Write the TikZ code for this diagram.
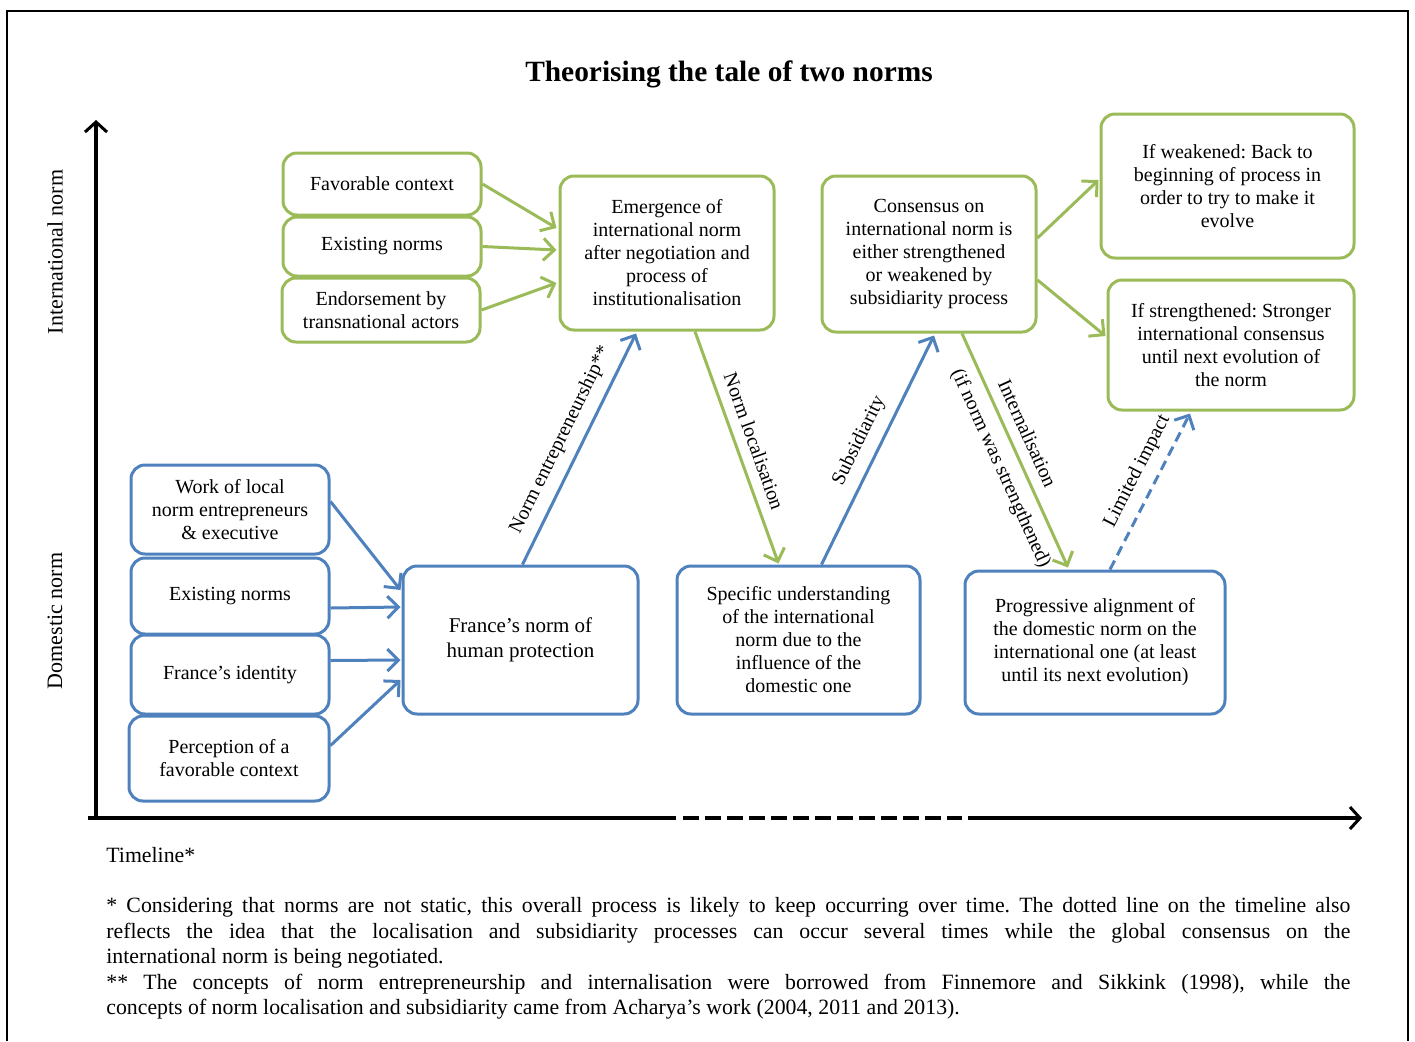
\documentclass[tikz,border=0pt]{standalone}
\usepackage{fontspec}
\setmainfont{Liberation Serif}
\usetikzlibrary{arrows.meta,calc}
\definecolor{ogreen}{HTML}{9BBB59}
\definecolor{oblue}{HTML}{4F81BD}
\frenchspacing
\tikzset{
  box/.style={draw, line width=1.5pt, rounded corners=7pt, align=center, fill=white,
    font=\fontsize{10}{11.5}\selectfont, inner sep=2pt},
  gbox/.style={box, draw=ogreen},
  bbox/.style={box, draw=oblue},
  conn/.style={line width=1.5pt, -{Straight Barb[length=5.5pt,width=11pt,line width=1.5pt]}},
  garr/.style={conn, draw=ogreen},
  barr/.style={conn, draw=oblue},
  lab/.style={sloped, font=\fontsize{10}{12}\selectfont, inner sep=5pt},
  axis/.style={line width=1.8pt, black},
  axtip/.style={-{Straight Barb[length=5pt,width=11pt,line width=1.5pt]}},
}
\begin{document}
\begin{tikzpicture}[x=0.5pt, y=-0.5pt]
\useasboundingbox (0,0) rectangle (1415,1041);
% frame
\draw[line width=1pt] (7,1041) -- (7,11) -- (1408,11) -- (1408,1041);

% title
\node[font=\fontsize{14.7}{17}\selectfont\bfseries] (title) at (729,74) {Theorising the tale of two norms};

% axes
\coordinate (orig) at (96,818);
\coordinate (ytop) at (96,120);
\draw[axis, axtip] (orig) -- (ytop);
\draw[axis] (88,818) -- (676,818);
\draw[axis, dash pattern=on 8pt off 3pt, line width=1.6pt] (683,818) -- (962,818);
\draw[axis, axtip] (968,818) -- (1362,818);
\node[rotate=90, font=\fontsize{11}{13}\selectfont] (intl) at (55,252) {International norm};
\node[rotate=90, font=\fontsize{11}{13}\selectfont] (dom) at (55,621) {Domestic norm};

% green boxes
\node[gbox, minimum width=99pt, minimum height=31pt] (fav) at (382,184) {Favorable context};
\node[gbox, minimum width=99pt, minimum height=29.5pt] (ex2) at (382,246.5) {Existing norms};
\node[gbox, minimum width=99pt, minimum height=32pt] (endo) at (381,310) {Endorsement by\\transnational actors};
\node[gbox, minimum width=107pt, minimum height=77pt] (emerg) at (667,253) {Emergence of\\international norm\\after negotiation and\\process of\\institutionalisation};
\node[gbox, minimum width=107pt, minimum height=78pt] (cons) at (929,254) {Consensus on\\international norm is\\either strengthened\\or weakened by\\subsidiarity process};
\node[gbox, minimum width=126.5pt, minimum height=72pt] (weak) at (1227.5,186) {If weakened: Back to\\beginning of process in\\order to try to make it\\evolve};
\node[gbox, minimum width=123pt, minimum height=65pt] (stre) at (1231,345) {If strengthened: Stronger\\international consensus\\until next evolution of\\the norm};

% blue boxes
\node[bbox, minimum width=99pt, minimum height=44.5pt] (work) at (230,509.5) {Work of local\\norm entrepreneurs\\\& executive};
\node[bbox, minimum width=99pt, minimum height=38pt] (ex1) at (230,596) {Existing norms};
\node[bbox, minimum width=99pt, minimum height=39.5pt] (iden) at (230,674.5) {France’s identity};
\node[bbox, minimum width=100pt, minimum height=42.5pt] (perc) at (229,758.5) {Perception of a\\favorable context};
\node[bbox, minimum width=117.5pt, minimum height=74pt, font=\fontsize{10.5}{12.5}\selectfont] (fran) at (520.5,640) {France’s norm of\\human protection};
\node[bbox, minimum width=121.5pt, minimum height=74pt] (spec) at (798.5,640) {Specific understanding\\of the international\\norm due to the\\influence of the\\domestic one};
\node[bbox, minimum width=130pt, minimum height=71.5pt] (prog) at (1095,642.5) {Progressive alignment of\\the domestic norm on the\\international one (at least\\until its next evolution)};

% green arrows into emergence
\draw[garr] (fav.east) -- ($(emerg.west)+(-2,-25)$);
\draw[garr] (ex2.east) -- ($(emerg.west)+(-2,-3)$);
\draw[garr] (endo.east) -- ($(emerg.west)+(-2,30)$);

% blue arrows into France
\draw[barr] ($(work.east)+(0,-8)$) -- ($(fran.west)+(-1,-50)$);
\draw[barr] ($(ex1.east)+(0,12)$) -- ($(fran.west)+(-1,-33)$);
\draw[barr] ($(iden.east)+(0,-14)$) -- ($(fran.west)+(-1,20)$);
\draw[barr] ($(perc.east)+(0,-13)$) -- ($(fran.west)+(-1,40)$);

% main process arrows
\draw[barr] ($(fran.north)+(2,0)$) -- node[lab, above, pos=0.5] {Norm entrepreneurship**} ($(emerg.south)+(-31,2)$);
\draw[garr] ($(emerg.south)+(28,0)$) -- node[lab, above, pos=0.5] {Norm localisation} ($(spec.north)+(-20,-1)$);
\draw[barr] ($(spec.north)+(23,0)$) -- node[lab, above, pos=0.5] {Subsidiarity} ($(cons.south)+(5,2)$);
\draw[garr] ($(cons.south)+(33,0)$) --
   node[lab, above, pos=0.46] {Internalisation}
   node[lab, below, pos=0.54] {(if norm was strengthened)}
   ($(prog.north)+(-27,-2)$);
\draw[barr, dashed, dash pattern=on 5pt off 3pt] ($(prog.north)+(15,0)$) -- node[lab, above, pos=0.57] {Limited impact} ($(stre.south)+(-41,2)$);

\draw[garr] ($(cons.east)+(0,-16)$) -- ($(weak.west)+(-1,-6)$);
\draw[garr] ($(cons.east)+(0,26)$) -- ($(stre.west)+(-1,-9)$);

% timeline and footnotes
\node[anchor=west, font=\fontsize{10.9}{12.75}\selectfont, inner sep=0pt] (tl) at (106,855) {Timeline*};
\node[anchor=north west, text width=622pt, align=justify, inner sep=0pt,
      font=\fontsize{10.9}{12.75}\selectfont] (foot) at (106,897)
 {* Considering that norms are not static, this overall process is likely to keep occurring over time. The dotted line on the timeline also\linebreak
 reflects the idea that the localisation and subsidiarity processes can occur several times while the global consensus on the\linebreak
 international norm is being negotiated.\\[0pt]
 {**} The concepts of norm entrepreneurship and internalisation were borrowed from Finnemore and Sikkink (1998), while the\linebreak
 concepts of norm localisation and subsidiarity came from Acharya’s work (2004, 2011 and 2013).};
\end{tikzpicture}
\end{document}
